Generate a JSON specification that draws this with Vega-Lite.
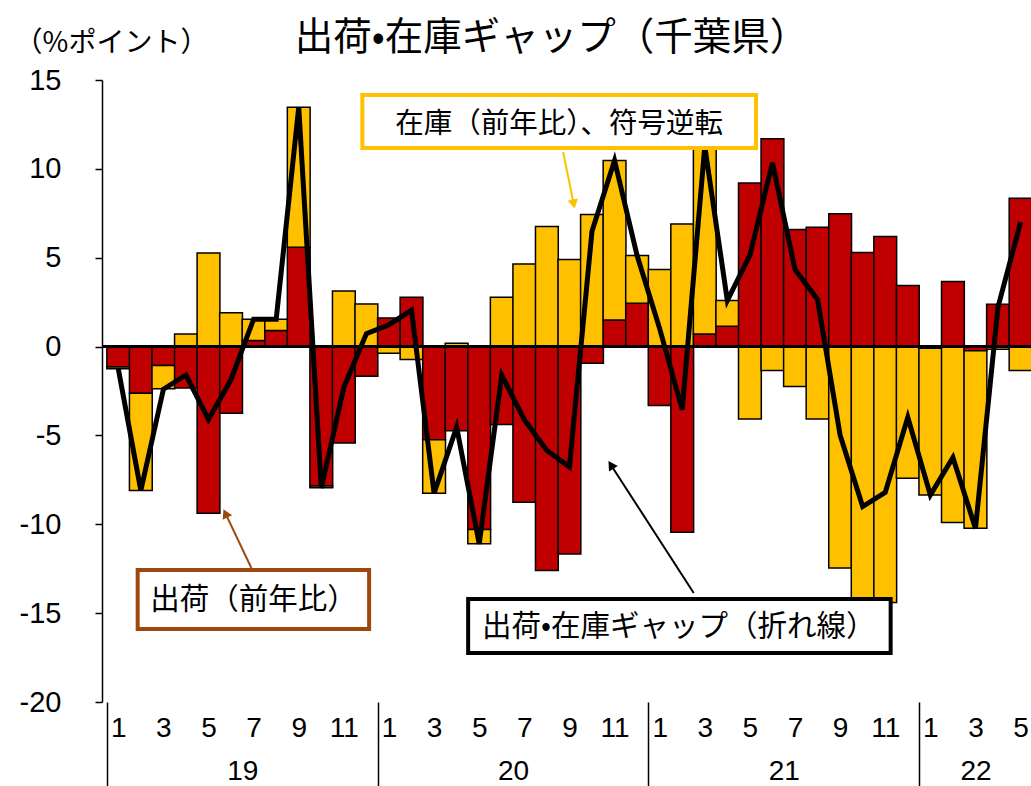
{
  "$schema": "https://vega.github.io/schema/vega-lite/v6.json",
  "width": 929,
  "height": 622,
  "autosize": {"type": "none"},
  "padding": {"left": 102, "top": 80, "right": 0, "bottom": 84},
  "background": "white",
  "title": {
    "text": "出荷•在庫ギャップ（千葉県）",
    "font": "Noto Sans CJK JP",
    "fontSize": 38.5,
    "fontWeight": "normal",
    "color": "#000000",
    "anchor": "middle",
    "frame": "group",
    "dx": -15,
    "baseline": "middle",
    "offset": -47
  },
  "config": {"view": {"stroke": null}, "font": "Noto Sans CJK JP"},
  "datasets": {
    "monthly": [
      {"i": 0, "ym": "2019-01", "出荷": -1.15, "在庫": -0.1, "ギャップ": -1.25},
      {"i": 1, "ym": "2019-02", "出荷": -2.63, "在庫": -5.47, "ギャップ": -8.1},
      {"i": 2, "ym": "2019-03", "出荷": -1.07, "在庫": -1.31, "ギャップ": -2.4},
      {"i": 3, "ym": "2019-04", "出荷": -2.33, "在庫": 0.71, "ギャップ": -1.6},
      {"i": 4, "ym": "2019-05", "出荷": -9.38, "在庫": 5.27, "ギャップ": -4.1},
      {"i": 5, "ym": "2019-06", "出荷": -3.75, "在庫": 1.9, "ギャップ": -1.85},
      {"i": 6, "ym": "2019-07", "出荷": 0.34, "在庫": 1.2, "ギャップ": 1.54},
      {"i": 7, "ym": "2019-08", "出荷": 0.9, "在庫": 0.64, "ギャップ": 1.54},
      {"i": 8, "ym": "2019-09", "出荷": 5.59, "在庫": 7.88, "ギャップ": 13.47},
      {"i": 9, "ym": "2019-10", "出荷": -7.85, "在庫": -0.1, "ギャップ": -7.95},
      {"i": 10, "ym": "2019-11", "出荷": -5.42, "在庫": 3.13, "ギャップ": -2.29},
      {"i": 11, "ym": "2019-12", "出荷": -1.67, "在庫": 2.4, "ギャップ": 0.73},
      {"i": 12, "ym": "2020-01", "出荷": 1.61, "在庫": -0.38, "ギャップ": 1.23},
      {"i": 13, "ym": "2020-02", "出荷": 2.78, "在庫": -0.73, "ギャップ": 2.05},
      {"i": 14, "ym": "2020-03", "出荷": -5.25, "在庫": -3.0, "ギャップ": -8.25},
      {"i": 15, "ym": "2020-04", "出荷": -4.73, "在庫": 0.19, "ギャップ": -4.54},
      {"i": 16, "ym": "2020-05", "出荷": -10.3, "在庫": -0.8, "ギャップ": -11.1},
      {"i": 17, "ym": "2020-06", "出荷": -4.39, "在庫": 2.78, "ギャップ": -1.61},
      {"i": 18, "ym": "2020-07", "出荷": -8.76, "在庫": 4.65, "ギャップ": -4.11},
      {"i": 19, "ym": "2020-08", "出荷": -12.6, "在庫": 6.75, "ギャップ": -5.85},
      {"i": 20, "ym": "2020-09", "出荷": -11.67, "在庫": 4.9, "ギャップ": -6.77},
      {"i": 21, "ym": "2020-10", "出荷": -0.94, "在庫": 7.43, "ギャップ": 6.49},
      {"i": 22, "ym": "2020-11", "出荷": 1.5, "在庫": 8.97, "ギャップ": 10.47},
      {"i": 23, "ym": "2020-12", "出荷": 2.44, "在庫": 2.68, "ギャップ": 5.12},
      {"i": 24, "ym": "2021-01", "出荷": -3.32, "在庫": 4.33, "ギャップ": 1.01},
      {"i": 25, "ym": "2021-02", "出荷": -10.45, "在庫": 6.9, "ギャップ": -3.55},
      {"i": 26, "ym": "2021-03", "出荷": 0.71, "在庫": 10.55, "ギャップ": 11.26},
      {"i": 27, "ym": "2021-04", "出荷": 1.15, "在庫": 1.44, "ギャップ": 2.59},
      {"i": 28, "ym": "2021-05", "出荷": 9.21, "在庫": -4.07, "ギャップ": 5.14},
      {"i": 29, "ym": "2021-06", "出荷": 11.69, "在庫": -1.35, "ギャップ": 10.34},
      {"i": 30, "ym": "2021-07", "出荷": 6.59, "在庫": -2.25, "ギャップ": 4.34},
      {"i": 31, "ym": "2021-08", "出荷": 6.72, "在庫": -4.07, "ギャップ": 2.65},
      {"i": 32, "ym": "2021-09", "出荷": 7.47, "在庫": -12.46, "ギャップ": -4.99},
      {"i": 33, "ym": "2021-10", "出荷": 5.3, "在庫": -14.3, "ギャップ": -9.0},
      {"i": 34, "ym": "2021-11", "出荷": 6.19, "在庫": -14.4, "ギャップ": -8.21},
      {"i": 35, "ym": "2021-12", "出荷": 3.43, "在庫": -7.41, "ギャップ": -3.98},
      {"i": 36, "ym": "2022-01", "出荷": -0.1, "在庫": -8.25, "ギャップ": -8.35},
      {"i": 37, "ym": "2022-02", "出荷": 3.66, "在庫": -9.9, "ギャップ": -6.24},
      {"i": 38, "ym": "2022-03", "出荷": -0.23, "在庫": -10.0, "ギャップ": -10.23},
      {"i": 39, "ym": "2022-04", "出荷": 2.38, "在庫": -0.15, "ギャップ": 2.23},
      {"i": 40, "ym": "2022-05", "出荷": 8.35, "在庫": -1.35, "ギャップ": 7.0}
    ]
  },
  "data": {"name": "monthly"},
  "resolve": {"axis": {"x": "independent", "y": "independent"}},
  "layer": [
    {
      "transform": [{"fold": ["出荷", "在庫"], "as": ["系列", "値"]}],
      "mark": {"type": "bar", "width": 22.8, "stroke": "#000000", "strokeWidth": 1.5, "clip": true},
      "encoding": {
        "x": {
          "field": "i", "type": "quantitative",
          "scale": {"domain": [-0.5, 40.24], "nice": false, "zero": false},
          "axis": {
            "orient": "bottom", "title": null, "values": [0, 2, 4, 6, 8, 10, 12, 14, 16, 18, 20, 22, 24, 26, 28, 30, 32, 34, 36, 38, 40],
            "labelExpr": "(datum.value % 12) + 1", "ticks": false, "domain": false, "grid": false,
            "labelFont": "Liberation Sans Narrow, Liberation Sans, sans-serif", "labelFontSize": 28, "labelColor": "#000000",
            "labelPadding": 12, "labelOverlap": false, "labelFlush": false
          }
        },
        "y": {
          "field": "値", "type": "quantitative", "stack": "zero",
          "scale": {"domain": [-20, 15], "nice": false, "zero": false},
          "axis": {
            "orient": "left",
            "values": [-20, -15, -10, -5, 0, 5, 10, 15],
            "labelExpr": "toString(datum.value)",
            "title": "（%ポイント）", "titleAngle": 0, "titleAlign": "center", "titleBaseline": "middle",
            "titleX": 9, "titleY": -37, "titleFontSize": 28, "titleFontWeight": "normal", "titleColor": "#000000",
            "titleFont": "Noto Sans CJK JP",
            "labelFont": "Liberation Sans Narrow, Liberation Sans, sans-serif", "labelFontSize": 29, "labelColor": "#000000",
            "labelPadding": 34, "tickSize": 7, "tickColor": "#000000", "tickWidth": 1.5,
            "domainColor": "#000000", "domainWidth": 1.5, "grid": false, "labelFlush": false, "labelOverlap": false
          }
        },
        "color": {"field": "系列", "type": "nominal", "scale": {"domain": ["出荷", "在庫"], "range": ["#C00000", "#FFC000"]}, "legend": null},
        "order": {"field": "系列", "sort": "ascending"}
      }
    },
    {
      "mark": {"type": "rule", "color": "#000000", "strokeWidth": 2},
      "encoding": {"y": {"datum": 0, "type": "quantitative", "axis": null}}
    },
    {
      "mark": {"type": "line", "color": "#000000", "strokeWidth": 5, "clip": true},
      "encoding": {
        "x": {
          "field": "i", "type": "quantitative",
          "axis": {
            "orient": "bottom", "title": null, "values": [-0.5, 11.5, 23.5, 35.5],
            "labels": false, "domain": false, "grid": false, "ticks": true,
            "tickSize": 84, "tickColor": "#000000", "tickWidth": 1.5
          }
        },
        "y": {"field": "ギャップ", "type": "quantitative", "axis": null}
      }
    },
    {
      "data": {"values": [{}]},
      "mark": {"type": "rect", "fill": "white", "stroke": "#FFC000", "strokeWidth": 4},
      "encoding": {
        "x": {"datum": 10.82, "type": "quantitative", "axis": null},
        "x2": {"datum": 28.27},
        "y": {"datum": 14.16, "type": "quantitative", "axis": null},
        "y2": {"datum": 11.18}
      }
    },
    {
      "data": {"values": [{}]},
      "mark": {"type": "rect", "fill": "white", "stroke": "#9E480E", "strokeWidth": 4},
      "encoding": {
        "x": {"datum": 0.86, "type": "quantitative", "axis": null},
        "x2": {"datum": 11.12},
        "y": {"datum": -12.57, "type": "quantitative", "axis": null},
        "y2": {"datum": -15.89}
      }
    },
    {
      "data": {"values": [{}]},
      "mark": {"type": "rect", "fill": "white", "stroke": "#000000", "strokeWidth": 4},
      "encoding": {
        "x": {"datum": 15.51, "type": "quantitative", "axis": null},
        "x2": {"datum": 34.24},
        "y": {"datum": -14.2, "type": "quantitative", "axis": null},
        "y2": {"datum": -17.24}
      }
    },
    {
      "data": {"values": [{}]},
      "mark": {"type": "text", "text": "在庫（前年比）、符号逆転", "font": "Noto Sans CJK JP", "fontSize": 28.5, "color": "#000000", "align": "center", "baseline": "middle"},
      "encoding": {
        "x": {
          "datum": 19.54, "type": "quantitative",
          "axis": {
            "orient": "bottom", "title": null, "values": [5.5, 17.5, 29.5, 38],
            "labelExpr": "datum.value < 12 ? '19' : datum.value < 24 ? '20' : datum.value < 36 ? '21' : '22'",
            "ticks": false, "domain": false, "grid": false,
            "labelFont": "Liberation Sans Narrow, Liberation Sans, sans-serif", "labelFontSize": 28, "labelColor": "#000000",
            "labelPadding": 55, "labelOverlap": false, "labelFlush": false
          }
        },
        "y": {"datum": 12.5, "type": "quantitative", "axis": null}
      }
    },
    {
      "data": {"values": [{}]},
      "mark": {"type": "text", "text": "出荷（前年比）", "font": "Noto Sans CJK JP", "fontSize": 29.5, "color": "#000000", "align": "center", "baseline": "middle"},
      "encoding": {
        "x": {"datum": 5.99, "type": "quantitative", "axis": null},
        "y": {"datum": -14.26, "type": "quantitative", "axis": null}
      }
    },
    {
      "data": {"values": [{}]},
      "mark": {"type": "text", "text": "出荷•在庫ギャップ（折れ線）", "font": "Noto Sans CJK JP", "fontSize": 29.5, "color": "#000000", "align": "center", "baseline": "middle"},
      "encoding": {
        "x": {"datum": 24.85, "type": "quantitative", "axis": null},
        "y": {"datum": -15.78, "type": "quantitative", "axis": null}
      }
    },
    {
      "data": {"values": [{}]},
      "mark": {"type": "rule", "color": "#FFC000", "strokeWidth": 2},
      "encoding": {
        "x": {"datum": 19.72, "type": "quantitative", "axis": null},
        "x2": {"datum": 20.19},
        "y": {"datum": 10.95, "type": "quantitative", "axis": null},
        "y2": {"datum": 8.02}
      }
    },
    {
      "data": {"values": [{}]},
      "mark": {"type": "point", "shape": "triangle-up", "filled": true, "color": "#FFC000", "size": 110, "angle": 168, "opacity": 1},
      "encoding": {
        "x": {"datum": 20.19, "type": "quantitative", "axis": null},
        "y": {"datum": 8.02, "type": "quantitative", "axis": null}
      }
    },
    {
      "data": {"values": [{}]},
      "mark": {"type": "rule", "color": "#9E480E", "strokeWidth": 2},
      "encoding": {
        "x": {"datum": 5.9, "type": "quantitative", "axis": null},
        "x2": {"datum": 4.75},
        "y": {"datum": -12.46, "type": "quantitative", "axis": null},
        "y2": {"datum": -9.39}
      }
    },
    {
      "data": {"values": [{}]},
      "mark": {"type": "point", "shape": "triangle-up", "filled": true, "color": "#9E480E", "size": 110, "angle": 334, "opacity": 1},
      "encoding": {
        "x": {"datum": 4.75, "type": "quantitative", "axis": null},
        "y": {"datum": -9.39, "type": "quantitative", "axis": null}
      }
    },
    {
      "data": {"values": [{}]},
      "mark": {"type": "rule", "color": "#000000", "strokeWidth": 2},
      "encoding": {
        "x": {"datum": 25.51, "type": "quantitative", "axis": null},
        "x2": {"datum": 21.84},
        "y": {"datum": -13.87, "type": "quantitative", "axis": null},
        "y2": {"datum": -6.66}
      }
    },
    {
      "data": {"values": [{}]},
      "mark": {"type": "point", "shape": "triangle-up", "filled": true, "color": "#000000", "size": 110, "angle": 327, "opacity": 1},
      "encoding": {
        "x": {"datum": 21.84, "type": "quantitative", "axis": null},
        "y": {"datum": -6.66, "type": "quantitative", "axis": null}
      }
    }
  ]
}
